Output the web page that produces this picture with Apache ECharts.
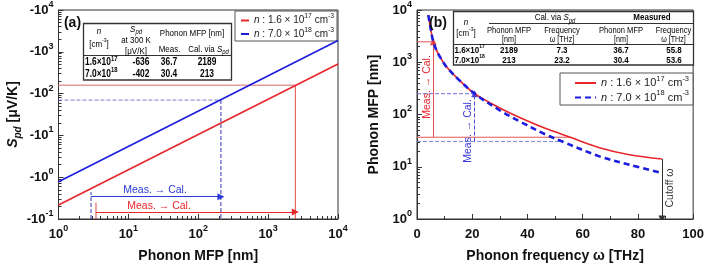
<!DOCTYPE html>
<html><head><meta charset="utf-8">
<script src="https://cdn.jsdelivr.net/npm/echarts@6/dist/echarts.min.js"></script>
<style>html,body{margin:0;padding:0;background:#fff}#c{width:707px;height:269px}</style>
</head><body><div id="c"></div>
<script>
const FF = '"Liberation Sans", Arial, Helvetica, sans-serif';
const FFN = '"Liberation Sans Narrow", "Liberation Sans", Arial, sans-serif';

// ---------- panel (a): S_pd (magnitude, drawn as -10^n) vs phonon MFP ----------
const lineN1A = [[1, 0.216], [10000, 510]];
const lineN2A = [[1, 0.78], [10000, 1860]];
const calMfpA = [2450, 211];      // red, blue: calculated MFP (vertical guides)
const calSA = [158, 70];          // red, blue: |S| level of horizontal guides
const measMfpA = [3.44, 2.92];    // red, blue: measured MFP (arrow start)
const arrowLevelA = [0.147, 0.342];
const stubTopA = [0.245, 0.44];

// ---------- panel (b): phonon MFP vs frequency ----------
const freqN1 = [4.1, 4.9, 5.9, 7.2, 8.7, 10.8, 15, 20.9, 30, 37.2, 46.2, 55.5, 66.1, 76.9, 88.7];
const mfpN1  = [8000, 4500, 2460, 1630, 1170, 800, 470, 250, 133, 87.5, 55, 36.7, 23.2, 17, 14.1];
const freqN2 = [4.1, 4.9, 5.9, 7.2, 8.7, 10.8, 15, 20.9, 30, 37.2, 46.2, 52.6, 66.1, 76.9, 88.7];
const mfpN2  = [8000, 4500, 2460, 1630, 1170, 800, 470, 250, 120, 73.7, 42.4, 30.4, 15.8, 10.9, 7.6];
const calFreqB = [5.9, 20.9];     // red, blue
const calMfpB = [2460, 250];
const measFreqB = [55.5, 52.6];
const measMfpB = [36.7, 30.4];
const cutoffFreq = 88.7;
const cutoffMfp = 14.1;

// ---------- tables / legends ----------
const legendNames = ['n : 1.6 × 10|17', 'n : 7.0 × 10|18'];
const tableRowsN = [['1.6×10', '17'], ['7.0×10', '18']];
const tableA = [['-636', '36.7', '2189'], ['-402', '30.4', '213']];
const tableB = [['2189', '7.3', '36.7', '55.8'], ['213', '23.2', '30.4', '53.6']];

const RED = '#e8262b', BLUE = '#1c1ce0';

const chart = echarts.init(document.getElementById('c'), null, {renderer: 'canvas'});

const axRich = {
  b: {fontSize: 13, fontWeight: 'bold', fontFamily: FF, color: '#111', lineHeight: 20},
  s: {fontSize: 9, fontWeight: 'bold', fontFamily: FF, color: '#111', verticalAlign: 'top', lineHeight: 11}
};
const nameStyle = {fontSize: 14, fontWeight: 'bold', fontFamily: FF, color: '#111'};
const tick = {inside: true, length: 5, lineStyle: {color: '#333'}};
const minor = (n) => ({show: true, splitNumber: n, length: 3, lineStyle: {color: '#333'}});
const axLine = {lineStyle: {color: '#333', width: 1}};
const exp = v => Math.round(Math.log10(v));

function legRich(sz) {
  return {
    i: {fontStyle: 'italic', fontSize: sz, fontFamily: FF, color: '#222', lineHeight: sz + 5},
    t: {fontSize: sz, fontFamily: FF, color: '#222', lineHeight: sz + 5},
    s: {fontSize: sz * 0.68, fontFamily: FF, color: '#222', verticalAlign: 'top', lineHeight: sz * 0.7}
  };
}
function legFmt(name) {
  const idx = (name === 'a1' || name === 'b1') ? 0 : 1;
  const p = legendNames[idx].split('|');
  return '{i|n}{t|' + p[0].slice(1) + '}{s|' + p[1] + '}{t| cm}{s|-3}';
}

function guide(xi, pts, color, type, width) {
  return {type: 'line', xAxisIndex: xi, yAxisIndex: xi, data: pts, symbol: 'none', silent: true,
    lineStyle: {color: color, width: width || 1, type: type || 'solid'}, z: 3, animation: false};
}
function arrow(xi, from, to, color, type) {
  return {type: 'lines', coordinateSystem: 'cartesian2d', xAxisIndex: xi, yAxisIndex: xi, silent: true,
    symbol: ['none', 'triangle'], symbolSize: [0, 7], z: 4, animation: false,
    lineStyle: {color: color, width: 1, type: type || 'solid', opacity: 1},
    data: [{coords: [from, to]}]};
}

// graphic helpers
function tRich(sz, color, wt, fam) {
  return {
    i: {fontStyle: 'italic', fontWeight: wt, fontSize: sz, fontFamily: fam, fill: color, color: color, lineHeight: sz + 4},
    t: {fontSize: sz, fontWeight: wt, fontFamily: fam, fill: color, color: color, lineHeight: sz + 4},
    s: {fontSize: Math.round(sz * 0.68), fontWeight: wt, fontFamily: fam, fill: color, color: color, verticalAlign: 'top', lineHeight: sz * 0.7},
    sub: {fontSize: Math.round(sz * 0.7), fontWeight: wt, fontStyle: 'italic', fontFamily: fam, fill: color, color: color, verticalAlign: 'bottom', lineHeight: sz * 0.7}
  };
}
function tx(x, y, text, o) {
  o = o || {};
  const sz = o.size || 9.5, col = o.color || '#000', wt = o.weight || 'normal', fam = o.font || FFN;
  const sx = o.sx || (fam === FFN ? 0.84 : 1);
  return {type: 'text', x: x, y: y, z: 50, silent: true, rotation: o.rot || 0, scaleX: sx,
    style: {text: text, fill: col, fontSize: sz, fontFamily: fam, fontWeight: wt,
      fontStyle: o.italic ? 'italic' : 'normal', align: o.align || 'center', verticalAlign: 'middle',
      lineHeight: sz + 4, rich: tRich(sz, col, wt, fam)}};
}
function hl(x1, x2, y, w) {
  return {type: 'line', z: 50, silent: true, shape: {x1: x1, y1: y, x2: x2, y2: y}, style: {stroke: '#333', lineWidth: w || 1}};
}
function box(x, y, w, h) {
  return {type: 'rect', z: 49, silent: true, shape: {x: x, y: y, width: w, height: h}, style: {fill: '#fff', stroke: '#333', lineWidth: 1.3}};
}

const graphics = [];
// ---- table (a)
graphics.push(box(83.5, 23.5, 148, 56.5));
graphics.push(hl(83.5, 231.5, 55.5));
graphics.push(tx(99, 31, '{i|n}'));
graphics.push(tx(99, 44.5, '[cm{s|-3}]'));
graphics.push(tx(136, 29, '{i|S}{sub|pd}'));
graphics.push(tx(136, 40, 'at 300 K'));
graphics.push(tx(136, 51, '[μV/K]'));
graphics.push(tx(192, 33, 'Phonon MFP [nm]'));
graphics.push(tx(169.5, 49, 'Meas.'));
graphics.push(tx(208.5, 49, 'Cal. via {i|S}{sub|pd}'));
[62.5, 74].forEach((y, r) => {
  graphics.push(tx(85, y, tableRowsN[r][0] + '{s|' + tableRowsN[r][1] + '}', {align: 'left', size: 10, weight: 'bold'}));
  graphics.push(tx(141, y, tableA[r][0], {size: 10, weight: 'bold'}));
  graphics.push(tx(169, y, tableA[r][1], {size: 10, weight: 'bold'}));
  graphics.push(tx(207, y, tableA[r][2], {size: 10, weight: 'bold'}));
});
// ---- table (b)
graphics.push(box(453.5, 11.5, 240, 53.5));
graphics.push(hl(489, 693.5, 23.5));
graphics.push(hl(453.5, 693.5, 44.5));
graphics.push(tx(466, 22, '{i|n}'));
graphics.push(tx(466, 33.5, '[cm{s|-3}]'));
graphics.push(tx(555, 17.5, 'Cal. via {i|S}{sub|pd}'));
graphics.push(tx(652, 17.5, 'Measured', {weight: 'bold'}));
[[509, 'Phonon MFP', '[nm]'], [562, 'Frequency', 'ω [THz]'], [621, 'Phonon MFP', '[nm]'], [673.5, 'Frequency', 'ω [THz]']].forEach(c => {
  graphics.push(tx(c[0], 31, c[1], {size: 9}));
  graphics.push(tx(c[0], 39.5, c[2], {size: 8.5}));
});
[50, 60].forEach((y, r) => {
  graphics.push(tx(454.5, y, tableRowsN[r][0] + '{s|' + tableRowsN[r][1] + '}', {align: 'left', size: 9.5, weight: 'bold'}));
  [509, 562, 621, 674].forEach((x, c) => graphics.push(tx(x, y, tableB[r][c], {size: 9.5, weight: 'bold'})));
});
// ---- panel labels & annotations
graphics.push(tx(72.5, 23, '(a)', {size: 14, weight: 'bold', font: FF, color: '#111'}));
graphics.push(tx(438, 23, '(b)', {size: 14, weight: 'bold', font: FF, color: '#111'}));
graphics.push(tx(155, 190, 'Meas. → Cal.', {size: 10.5, font: FF, color: '#2a3ad8'}));
graphics.push(tx(159, 206.5, 'Meas. → Cal.', {size: 10.5, font: FF, color: RED}));
graphics.push(tx(427, 87, 'Meas. → Cal.', {size: 10.5, font: FF, color: RED, rot: Math.PI / 2}));
graphics.push(tx(468, 131, 'Meas. → Cal.', {size: 10.5, font: FF, color: '#3a3ad8', rot: Math.PI / 2}));
graphics.push(tx(670, 188, 'Cutoff ω', {size: 10.5, font: FF, color: '#333', rot: Math.PI / 2}));

const option = {
  animation: false,
  backgroundColor: '#fff',
  grid: [
    {left: 58.5, right: 369, top: 10, bottom: 50, show: true, borderColor: '#333', borderWidth: 1, backgroundColor: 'transparent'},
    {left: 417, right: 13, top: 10, bottom: 50, show: true, borderColor: '#333', borderWidth: 1, backgroundColor: 'transparent'}
  ],
  xAxis: [
    {gridIndex: 0, type: 'log', logBase: 10, min: 1, max: 10000, axisLine: axLine, axisTick: tick, minorTick: minor(9),
      splitLine: {show: false}, axisLabel: {margin: 5, formatter: v => '{b|10}{s|' + exp(v) + '}', rich: axRich},
      name: 'Phonon MFP [nm]', nameLocation: 'middle', nameGap: 30, nameTextStyle: nameStyle},
    {gridIndex: 1, type: 'value', min: 0, max: 100, interval: 20, axisLine: axLine, axisTick: tick, minorTick: minor(2),
      splitLine: {show: false}, axisLabel: {margin: 9, fontSize: 13, fontWeight: 'bold', fontFamily: FF, color: '#111'},
      name: 'Phonon frequency ω [THz]', nameLocation: 'middle', nameGap: 30, nameTextStyle: nameStyle}
  ],
  yAxis: [
    {gridIndex: 0, type: 'log', logBase: 10, min: 0.1, max: 10000, axisLine: axLine, axisTick: tick, minorTick: minor(9),
      splitLine: {show: false}, axisLabel: {margin: 5, formatter: v => '{b|-10}{s|' + exp(v) + '}', rich: axRich},
      name: '{i|S}{sub|pd}{t| [μV/K]}', nameLocation: 'middle', nameGap: 34,
      nameTextStyle: {rich: {
        i: {fontSize: 14, fontWeight: 'bold', fontStyle: 'italic', fontFamily: FF, color: '#111', lineHeight: 20},
        sub: {fontSize: 10, fontWeight: 'bold', fontStyle: 'italic', fontFamily: FF, color: '#111', verticalAlign: 'bottom', lineHeight: 11},
        t: {fontSize: 14, fontWeight: 'bold', fontFamily: FF, color: '#111', lineHeight: 20}}}},
    {gridIndex: 1, type: 'log', logBase: 10, min: 1, max: 10000, axisLine: axLine, axisTick: tick, minorTick: minor(9),
      splitLine: {show: false}, axisLabel: {margin: 5, formatter: v => '{b|10}{s|' + exp(v) + '}', rich: axRich},
      name: 'Phonon MFP [nm]', nameLocation: 'middle', nameGap: 36, nameTextStyle: nameStyle}
  ],
  legend: [
    {data: ['a1', 'a2'], left: 235, top: 11, orient: 'vertical', itemWidth: 8, itemHeight: 8, itemGap: 1,
      padding: [2, 3, 2, 5], borderColor: '#555', borderWidth: 1, backgroundColor: '#fff', selectedMode: false,
      itemStyle: {opacity: 0}, formatter: legFmt, textStyle: {fontSize: 10, fontFamily: FF, color: '#222', rich: legRich(10)}},
    {data: ['b1', 'b2'], left: 560, top: 73, orient: 'vertical', itemWidth: 21, itemHeight: 8, itemGap: 1,
      padding: [2, 4, 2, 14], borderColor: '#555', borderWidth: 1, backgroundColor: '#fff', selectedMode: false,
      itemStyle: {opacity: 0}, formatter: legFmt, textStyle: {fontSize: 11, fontFamily: FF, color: '#222', rich: legRich(11)}}
  ],
  series: [
    // panel (a) guides
    guide(0, [[1, calSA[0]], [calMfpA[0], calSA[0]]], '#e39a9a', 'solid', 1.5),
    guide(0, [[calMfpA[0], calSA[0]], [calMfpA[0], 0.1]], '#e04848', 'solid', 1),
    guide(0, [[1, calSA[1]], [calMfpA[1], calSA[1]]], '#7a7ad8', 'dashed', 1),
    guide(0, [[calMfpA[1], calSA[1]], [calMfpA[1], 0.1]], '#3434b8', 'dashed', 1),
    guide(0, [[measMfpA[0], 0.1], [measMfpA[0], stubTopA[0]]], '#e04848', 'solid', 1),
    guide(0, [[measMfpA[1], 0.1], [measMfpA[1], stubTopA[1]]], '#3434b8', 'dashed', 1),
    arrow(0, [measMfpA[0], arrowLevelA[0]], [calMfpA[0], arrowLevelA[0]], RED),
    arrow(0, [measMfpA[1], arrowLevelA[1]], [calMfpA[1], arrowLevelA[1]], '#2a3ad8'),
    // panel (a) main lines
    {name: 'a1', type: 'line', xAxisIndex: 0, yAxisIndex: 0, data: lineN1A, symbol: 'none', color: RED, lineStyle: {color: RED, width: 1.6}, z: 5},
    {name: 'a2', type: 'line', xAxisIndex: 0, yAxisIndex: 0, data: lineN2A, symbol: 'none', color: BLUE, lineStyle: {color: BLUE, width: 1.6}, z: 5},
    // panel (b) guides
    guide(1, [[0, calMfpB[0]], [calFreqB[0], calMfpB[0]]], '#e05454', 'solid', 1),
    guide(1, [[0, measMfpB[0]], [measFreqB[0], measMfpB[0]]], '#e05454', 'solid', 1),
    guide(1, [[0, calMfpB[1]], [calFreqB[1], calMfpB[1]]], '#6a6ad8', 'dashed', 1),
    guide(1, [[0, measMfpB[1]], [measFreqB[1], measMfpB[1]]], '#8a8ad8', 'dashed', 1),
    arrow(1, [calFreqB[0], measMfpB[0]], [calFreqB[0], calMfpB[0]], '#e05454'),
    arrow(1, [calFreqB[1], measMfpB[1]], [calFreqB[1], calMfpB[1]], '#4a4ad8', 'dashed'),
    arrow(1, [cutoffFreq, cutoffMfp], [cutoffFreq, 1], '#333'),
    // panel (b) curves
    {name: 'b1', type: 'line', xAxisIndex: 1, yAxisIndex: 1, data: freqN1.map((f, i) => [f, mfpN1[i]]), symbol: 'none', smooth: 0.35,
      color: RED, lineStyle: {color: RED, width: 1.6}, z: 5},
    {name: 'b2', type: 'line', xAxisIndex: 1, yAxisIndex: 1, data: freqN2.map((f, i) => [f, mfpN2[i]]), symbol: 'none', smooth: 0.35,
      color: BLUE, lineStyle: {color: BLUE, width: 2.6, type: [6, 4]}, z: 6}
  ],
  graphic: graphics
};
chart.setOption(option);
</script>
</body></html>
